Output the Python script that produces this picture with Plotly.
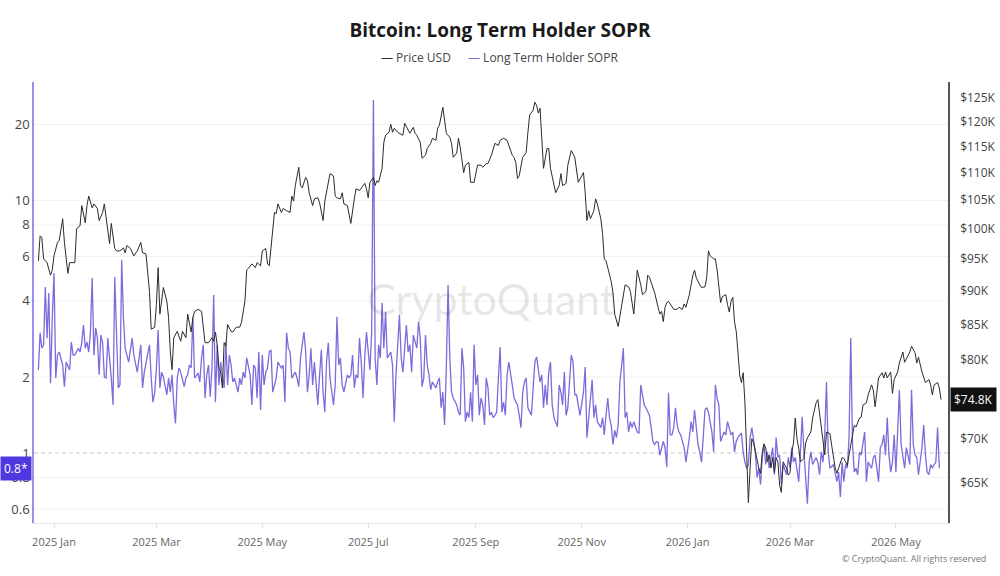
import math
import pandas as pd
import plotly.graph_objects as go

# ---------------- data ----------------
BASE_DATE = "2025-01-01"

price_day = [
    -9, -8, -7, -6, -4, -3, -2, -1, 0, 2, 3, 5, 6, 8, 9, 12, 13, 15, 16, 18, 19, 20, 22, 23, 25, 26, 28, 29, 30,
    32, 33, 35, 36, 38, 40, 41, 42, 44, 46, 47, 48, 50, 51, 53, 55, 56, 58, 59, 60, 61, 63, 65, 66, 67, 68, 69,
    71, 73, 74, 76, 77, 79, 80, 81, 83, 85, 86, 87, 89, 91, 92, 93, 94, 95, 96, 97, 98, 99, 100, 102, 103, 105,
    107, 108, 110, 111, 112, 114, 116, 117, 119,
    120, 122, 123, 124, 125, 127, 128, 129, 131, 132, 134, 136, 137, 138, 139, 141, 142, 143, 145, 146, 147, 149,
    150, 152, 153, 155, 156, 157, 159, 161, 162, 163, 165, 166, 167, 169, 170, 171, 173, 174, 176, 177, 179, 180,
    181, 182, 184, 185, 186, 187, 189, 190, 191, 193, 194, 195, 196, 198, 199, 201, 202, 204, 205, 207, 208, 209,
    211, 212, 214, 215, 217, 218, 220, 221, 222, 224, 225, 226, 228, 229, 230, 232, 233, 234, 236, 237, 239, 240,
    242, 243, 244, 246, 247, 249,
    250, 252, 254, 256, 257, 259, 261, 262, 264, 265, 266, 267, 268, 270, 272, 273, 274, 276, 277, 278, 279, 280,
    281, 282, 284, 285, 286, 288, 289, 291, 292, 293, 295, 296, 297, 298, 300, 301, 302, 304, 305, 306, 307, 308,
    309, 311, 312, 313, 315, 316, 317, 318, 319, 320, 321, 322, 323, 325, 326, 327, 328, 329, 331, 332, 334, 335,
    336, 338, 339, 341, 342, 343, 345, 346, 348, 349, 350, 351, 352, 353, 354, 356, 357, 359, 360, 362, 363, 364,
    366, 367, 368, 369, 370, 372, 373, 375, 376, 377, 378, 380,
    381, 382, 383, 384, 385, 387, 388, 389, 390, 391, 392, 393, 394, 395, 396, 397, 398, 399, 400, 401, 402, 403,
    404, 405, 406, 407, 408, 409, 410, 411, 412, 413, 414, 415, 416, 417, 418, 419, 420, 422, 423, 424, 425, 426,
    427, 428, 429, 430, 432, 433, 434, 436, 437, 439, 440, 441, 442, 444, 445, 447, 448, 450, 451, 452, 454, 455,
    457, 458, 460, 461, 462, 464, 465, 466, 468, 469, 471, 472, 473, 474, 475, 477, 478, 479, 480, 482, 483, 484,
    486, 487, 488, 489, 490, 492, 493, 494, 496, 497, 498, 500, 501, 502, 504, 505, 506, 507, 509, 510, 511,
]
price_usd_k = [
    94.7, 98.8, 98.5, 95.0, 94.4, 93.5, 92.4, 93.2, 95.5, 97.7, 98.0, 101.7, 97.7, 92.7, 94.4, 94.4, 100.0, 100.5,
    104.0, 101.0, 104.0, 105.7, 103.6, 104.3, 103.5, 101.4, 102.8, 104.3, 101.7,
    97.5, 100.9, 96.7, 96.3, 96.3, 96.8, 96.0, 97.2, 96.7, 95.5, 96.0, 96.3, 97.7, 96.0, 95.8, 89.9, 84.3, 84.6,
    87.9, 93.6, 86.5, 90.5, 88.4, 86.0, 81.1, 78.7, 83.1,
    84.0, 82.6, 84.0, 83.1, 86.5, 83.9, 86.0, 86.9, 87.2, 86.9, 84.0, 82.4, 82.4, 83.1, 82.6, 83.9, 82.1, 78.9,
    78.4, 76.3, 82.4, 81.9, 85.0, 84.0, 83.9, 84.6,
    84.6, 85.3, 88.4, 93.2, 93.5, 94.2, 93.6, 94.4, 93.9,
    96.3, 96.7, 94.2, 93.9, 96.7, 102.8, 102.6, 104.3, 102.8, 103.5, 103.1, 102.8, 105.7, 104.8, 107.6, 111.0,
    107.6, 107.2, 109.1, 108.5, 106.3, 104.0,
    105.2, 105.4, 104.5, 101.4, 104.8, 106.3, 109.8, 109.4, 105.7, 105.4, 105.2, 106.3, 104.3, 104.0, 102.6,
    100.9, 105.2, 107.0, 106.7, 107.2, 108.0, 107.0,
    105.4, 108.2, 109.1, 107.6, 108.5, 108.2, 110.8, 115.8, 117.2, 117.8, 119.4, 117.8, 118.6, 117.8, 117.6,
    117.2, 119.6, 118.2, 117.6, 118.8, 117.6, 117.2,
    115.8, 112.7, 113.3, 114.6, 115.6, 116.6, 116.2, 118.6, 119.2, 122.9, 120.6, 117.6, 116.8, 115.6, 112.9,
    113.7, 116.6, 114.8, 110.0, 111.4, 111.9, 108.2,
    108.2, 109.8, 111.4, 111.4, 111.0, 111.7,
    111.7, 113.3, 115.6, 115.2, 116.2, 116.6, 116.2, 115.2, 113.3, 112.9, 111.9, 108.9, 109.4, 112.9, 113.8,
    117.8, 121.3, 122.3, 124.0, 123.3, 121.7, 122.7,
    116.6, 110.8, 114.6, 114.6, 110.8, 108.0, 106.3, 107.6, 109.8, 107.6, 108.0, 111.4, 112.7, 114.2, 112.9,
    110.8, 108.2, 109.4, 110.0, 106.3, 101.4, 103.1,
    101.7, 103.1, 105.2, 104.3, 101.7, 99.2, 95.0, 94.7, 93.6, 92.4, 91.4, 89.7, 86.5, 84.7, 86.2, 87.9, 89.9,
    90.9, 90.6, 89.9, 86.5, 90.5,
    93.2, 90.9, 89.4, 89.9, 92.4, 92.1, 90.5, 89.7, 87.5, 86.5, 86.9, 85.4, 87.5, 88.2, 88.4, 87.6, 87.2, 87.2,
    87.5, 87.2, 88.0, 87.5,
    89.4, 90.9, 92.4, 93.2, 92.0, 90.9, 90.5, 90.6, 92.0, 96.3, 95.5, 95.0,
    95.0, 93.2, 90.9, 88.2, 89.1, 89.4, 87.9, 86.8, 88.4, 89.0, 85.4, 84.0, 81.1, 78.0, 77.0, 78.3, 74.5, 68.4,
    62.8, 66.6, 70.0, 69.5,
    68.4, 67.3, 66.6, 66.0, 68.4, 69.4, 68.9, 67.3, 68.1, 66.6, 67.8, 66.1, 67.8, 67.3, 64.7, 63.9, 67.3, 66.6,
    65.8, 66.1, 68.4, 69.5,
    72.5, 70.0, 68.9, 67.3, 67.7, 69.5, 70.1, 70.8, 72.5, 74.4, 74.8, 73.1, 71.3, 68.1, 70.8, 70.6, 69.2, 66.6,
    66.0, 66.6, 67.8, 67.7,
    66.9, 68.1, 70.8, 71.6, 71.4, 72.5, 72.6, 74.1, 74.4, 75.4, 76.7, 76.0, 73.9, 75.8, 77.6, 78.3, 77.6, 78.4,
    77.6, 78.4, 75.6, 77.4,
    78.4, 79.6, 80.3, 81.1, 79.7, 80.7, 81.1, 81.9, 81.0, 79.6, 80.4, 78.4, 77.6, 77.0, 77.4, 76.7, 75.4, 76.7,
    77.0, 76.3, 74.8,
]

sopr_day = [
    -9, -8, -7, -6, -5, -4, -3, -2, -1, 0, 1, 2, 3, 5, 6, 7, 9, 10, 11, 12, 14, 15, 16, 17, 18, 19, 20, 21, 22,
    23, 24, 25, 26, 27, 28, 29, 30, 31, 33, 34, 35, 36, 37, 38, 39, 40, 41, 43, 44, 45, 46, 48, 50, 51, 52, 53,
    55, 56, 57, 58, 59, 60, 61, 62, 63, 65, 66, 67, 68, 69, 70, 71, 72, 73, 75, 76, 77, 78, 79, 80, 81, 83, 84,
    85, 86, 87, 88, 89, 90, 91, 92, 93, 94, 95, 96, 98, 99, 100, 101, 102, 103, 104, 106, 107, 108, 109, 110,
    111, 113, 114, 115, 116, 117, 118, 119,
    120, 121, 122, 123, 124, 125, 126, 127, 128, 129, 131, 132, 133, 134, 135, 136, 137, 139, 140, 141, 142, 144,
    145, 146, 147, 148, 149, 150, 151, 152, 153, 154, 155, 156, 157, 158, 159, 161, 162, 163, 164, 165, 166, 167,
    169, 170, 171, 172, 173, 174, 175, 176, 177, 178, 179, 180, 182, 183, 184, 185, 186, 187, 188, 189, 190, 191,
    192, 194, 195, 196, 197, 199, 200, 201, 203, 204, 205, 206, 207, 209, 210, 211, 212, 213, 214, 215, 216, 217,
    218, 220, 221, 222, 223, 224, 225, 226, 227, 228, 229, 230, 232, 233, 234, 235, 236, 237, 238, 239, 240, 241,
    242, 243, 244, 245, 246, 247, 248, 249, 250,
    251, 252, 253, 254, 255, 256, 257, 258, 259, 260, 261, 262, 263, 264, 265, 267, 268, 269, 270, 271, 272, 273,
    275, 276, 277, 278, 279, 280, 281, 282, 283, 284, 285, 286, 287, 288, 290, 291, 292, 293, 294, 295, 296, 298,
    299, 300, 301, 302, 303, 305, 306, 307, 308, 309, 310, 311, 312, 313, 315, 316, 317, 318, 319, 320, 321, 322,
    323, 324, 325, 326, 328, 329, 330, 331, 332, 333, 334, 336, 337, 338, 339, 340, 341, 343, 344, 345, 346, 347,
    348, 349, 351, 352, 353, 354, 355, 356, 357, 358, 359, 360, 361, 363, 364, 365, 366, 367, 368, 369, 371, 372,
    373, 374, 375, 376, 377, 379, 380, 381,
    382, 383, 384, 386, 387, 388, 389, 390, 391, 392, 393, 394, 396, 397, 398, 399, 400, 401, 402, 404, 405, 406,
    407, 408, 409, 410, 411, 412, 414, 415, 416, 417, 418, 419, 420, 422, 423, 424, 425, 426, 427, 429, 430, 431,
    432, 433, 434, 435, 436, 437, 439, 440, 441, 442, 443, 444, 445, 446, 447, 449, 450, 451, 452, 453, 454, 455,
    456, 457, 458, 459, 460, 461, 462, 463, 464, 465, 467, 468, 469, 470, 471, 472, 473, 475, 476, 477, 478, 479,
    480, 481, 482, 483, 484, 485, 486, 487, 488, 490, 491, 492, 493, 494, 495, 496, 497, 498, 500, 501, 502, 503,
    504, 505, 506, 507, 508, 509, 510,
]
sopr = [
    2.13, 2.99, 2.60, 2.68, 4.54, 2.85, 4.30, 1.89, 3.42, 5.16, 1.98, 2.44, 2.51, 2.23, 1.83, 2.29, 2.13, 2.75,
    2.44, 2.44, 2.60, 2.51, 2.73, 3.21, 2.60, 2.75, 2.51, 3.01, 4.93,
    2.44, 3.13, 2.85, 2.04, 2.93, 2.73, 2.00, 1.98, 2.85, 1.98, 1.55, 4.98, 2.93, 1.81, 1.86, 5.81, 3.42, 2.60,
    2.29, 2.63, 2.85, 2.44, 2.09, 2.68, 1.81, 2.09, 2.27,
    2.68, 1.98, 1.59, 1.73, 2.17, 3.07, 1.81, 2.09, 2.00, 1.70, 1.98, 1.74, 2.04, 1.55, 1.31, 1.98, 2.17, 2.09,
    1.83, 1.98, 2.04, 2.23, 2.17, 3.46, 1.98, 2.07, 1.91,
    2.38, 2.68, 1.65, 2.04, 2.23, 1.67, 2.17, 4.22, 1.59, 2.68, 1.86, 2.29, 1.81, 2.75, 1.86, 2.44, 2.23, 1.91,
    1.98, 1.74, 1.98, 1.86, 2.09, 1.98,
    2.38, 2.04, 1.55, 2.23, 2.17, 1.65, 2.51, 1.48,
    2.44, 1.86, 2.09, 2.17, 2.51, 2.56, 1.74, 1.86, 1.98, 2.29, 2.17, 2.23, 1.59, 2.99, 2.60, 2.51, 1.98, 2.09,
    1.98, 1.83, 2.38, 3.01,
    2.51, 1.74, 2.04, 2.60, 1.86, 2.29, 1.81, 1.55, 2.04, 2.56, 1.74, 1.45, 2.29, 2.73, 1.98, 1.55, 1.86, 3.46,
    2.23, 2.38, 1.86, 1.74,
    2.04, 1.98, 2.04, 2.44, 1.81, 2.04, 1.98, 2.85, 2.29, 1.65, 2.38, 3.01, 2.13, 3.01, 25.0, 2.38, 1.86, 2.68,
    2.38, 3.93, 2.60, 3.62,
    2.38, 2.51, 2.23, 1.33, 2.04, 3.52, 2.38, 2.09, 3.21, 2.51, 2.68, 2.09, 2.93, 2.60, 3.30, 2.85, 1.83, 1.98,
    2.93, 2.23, 2.04, 1.78,
    1.91, 1.81, 1.91, 1.98, 1.51, 1.74, 1.29, 2.17, 4.63, 2.38, 1.74, 1.65, 1.55, 1.45, 1.41, 2.60, 2.17, 1.33,
    1.45, 1.38, 1.74, 1.33,
    2.68, 1.86, 2.04, 1.41, 1.65, 1.55, 1.29, 1.98, 1.81,
    1.41, 1.45, 1.38, 1.41, 1.45, 1.98, 2.63, 1.45, 1.59, 1.41, 2.04, 2.29, 2.09, 1.86, 1.65, 1.55, 1.41, 1.26,
    1.74, 1.91, 1.98, 1.51,
    1.41, 1.86, 2.29, 2.40, 2.09, 1.91, 2.04, 1.51, 1.86, 1.55, 2.09, 2.29, 1.55, 1.38, 1.27, 1.86, 1.74, 1.55,
    2.09, 1.41, 1.51, 2.44,
    2.29, 1.70, 1.70, 1.55, 1.41, 1.74, 2.19, 1.15, 1.38, 1.55, 1.95, 1.38, 1.55, 1.33, 1.26, 1.38, 1.18, 1.41,
    1.65, 1.38, 1.29, 1.08,
    1.23, 1.15, 1.29, 1.91, 2.60, 1.38, 1.45, 1.21, 1.33, 1.26, 1.33, 1.21, 1.20, 1.86, 1.70, 1.55, 1.51, 1.41,
    1.26, 1.11, 1.08, 1.11,
    1.10, 0.98, 1.11, 1.05, 0.88, 1.73, 1.18, 1.18, 1.26, 1.51, 1.29, 1.21, 1.18, 1.05, 0.92, 1.01, 1.15, 1.33,
    1.21, 1.48, 1.08, 1.01,
    0.92, 1.15, 1.48, 1.51, 1.45, 1.21, 1.01, 1.86,
    1.65, 1.55, 1.11, 1.21, 1.18, 1.33, 1.26, 1.18, 1.21, 1.01, 1.11, 1.15, 1.20, 1.01, 0.92, 0.87, 0.90, 1.15,
    1.26, 1.01, 0.80, 0.87,
    0.75, 0.96, 1.08, 0.90, 1.01, 0.87, 1.05, 0.82, 1.15, 0.96, 0.98, 0.75, 0.90, 0.82, 0.96, 0.87, 1.05, 0.92,
    0.96, 0.77, 1.01, 1.39,
    1.01, 0.77, 0.63, 0.92, 1.01, 0.90, 0.96, 0.92, 0.82, 1.01, 0.92, 1.18, 1.91, 1.01, 0.87, 0.90, 0.82, 0.77,
    0.84, 0.67, 0.92, 0.77,
    0.90, 0.87, 1.15, 2.85, 1.08, 0.84, 0.87, 0.82, 1.01, 0.98, 1.21, 0.77, 0.92, 0.90, 0.87, 0.96, 0.98, 0.77,
    1.05, 1.08, 1.18, 0.98,
    1.38, 0.98, 0.84, 0.92, 1.18, 0.84, 1.26, 1.78, 1.08, 0.87, 1.05, 0.96, 0.90, 1.78, 1.08, 0.98, 0.96, 0.82,
    1.05, 1.29, 0.98, 0.84,
    0.82, 0.90, 0.87, 0.90, 0.92, 1.26, 0.87,
]

sopr_ticks = [0.6, 0.8, 1, 2, 4, 6, 8, 10, 20]
price_ticks_k = [65, 70, 80, 85, 90, 95, 100, 105, 110, 115, 120, 125]
x_range = ["2024-12-20 11:30", "2026-05-31"]
sopr_range = [0.528, 29.45]
price_range_k = [60.66, 128.3]
sopr_last_label = "0.8*"

# ---------------- build ----------------
base = pd.Timestamp(BASE_DATE)
price_dates = base + pd.to_timedelta(price_day, unit="D")
sopr_dates = base + pd.to_timedelta(sopr_day, unit="D")
price_usd = [v * 1000 for v in price_usd_k]

FONT = "Open Sans"
PRICE_COLOR = "#2b2b2b"
SOPR_COLOR = "#7b6cdb"

W, H = 1000, 576
L, R, T, B = 34, 52, 82, 53
PW, PH = W - L - R, H - T - B


def px_x(p):
    return (p - L) / PW


def px_y(p):
    return (H - B - p) / PH


fig = go.Figure()
fig.add_trace(go.Scatter(
    x=sopr_dates, y=sopr, mode="lines", name="Long Term Holder SOPR",
    line=dict(color=SOPR_COLOR, width=1.3), yaxis="y", showlegend=False,
))
fig.add_trace(go.Scatter(
    x=price_dates, y=price_usd, mode="lines", name="Price USD",
    line=dict(color=PRICE_COLOR, width=1.0), yaxis="y2", showlegend=False,
))

grid_shapes = []
for v in sopr_ticks:
    if v == 1:
        continue
    grid_shapes.append(dict(type="line", xref="paper", x0=0, x1=1, yref="y", y0=v, y1=v,
                            line=dict(color="#f1f1f1", width=1), layer="below"))
grid_shapes.append(dict(type="line", xref="paper", x0=0, x1=1, yref="y", y0=1, y1=1,
                        line=dict(color="#c9c9c9", width=1, dash="4px,3px"), layer="below"))

annotations = [
    # legend
    dict(xref="paper", yref="paper", x=px_x(453), y=px_y(58), xanchor="right", yanchor="middle",
         text=f'<span style="color:{PRICE_COLOR}">—</span> Price USD', showarrow=False,
         font=dict(family=FONT, size=12, color="#444")),
    dict(xref="paper", yref="paper", x=px_x(466), y=px_y(58), xanchor="left", yanchor="middle",
         text=f'<span style="color:{SOPR_COLOR}">—</span> Long Term Holder SOPR', showarrow=False,
         font=dict(family=FONT, size=12, color="#444")),
    # watermark
    dict(xref="paper", yref="paper", x=px_x(491), y=px_y(298), xanchor="center", yanchor="middle",
         text="CryptoQuant", showarrow=False,
         font=dict(family="Lato", size=43, color="rgba(60,60,80,0.12)")),
    # copyright
    dict(xref="paper", yref="paper", x=px_x(988), y=px_y(558), xanchor="right", yanchor="middle",
         text="© CryptoQuant. All rights reserved", showarrow=False,
         font=dict(family=FONT, size=9, color="#777")),
    # last-value labels
    dict(xref="paper", yref="y", x=0, y=math.log10(sopr[-1]), xanchor="right", yanchor="middle",
         xshift=-2, text=sopr_last_label, showarrow=False, bgcolor="#5038e0", borderpad=3,
         font=dict(family=FONT, size=12, color="white")),
    dict(xref="paper", yref="y2", x=1, y=math.log10(price_usd[-1]), xanchor="left", yanchor="middle",
         xshift=2, text=f"${price_usd_k[-1]:.1f}K", showarrow=False, bgcolor="#111111", borderpad=3,
         font=dict(family=FONT, size=12, color="white")),
]

fig.update_layout(
    width=W, height=H,
    margin=dict(l=L, r=R, t=T, b=B, autoexpand=False),
    paper_bgcolor="white", plot_bgcolor="white",
    title=dict(text="<b>Bitcoin: Long Term Holder SOPR</b>", x=0.5, xanchor="center",
               y=1 - 30 / H, yanchor="middle", yref="container",
               font=dict(family=FONT, size=19, color="#1a1a1a")),
    showlegend=False,
    xaxis=dict(
        type="date", range=x_range, tick0="2025-01-01", dtick="M2", tickformat="%Y %b",
        showgrid=False, zeroline=False, showline=True, linecolor="#e6e6e6", linewidth=1,
        ticks="outside", ticklen=4, tickcolor="#e0e0e0", ticklabelstandoff=5, automargin=False,
        tickfont=dict(family=FONT, size=11, color="#666"),
    ),
    yaxis=dict(
        type="log", range=[math.log10(sopr_range[0]), math.log10(sopr_range[1])],
        tickvals=sopr_ticks, ticktext=[f"{v:g}" for v in sopr_ticks], automargin=False,
        showgrid=False, zeroline=False, showline=True, linecolor="#9a8fec", linewidth=1.5,
        ticks="", tickfont=dict(family=FONT, size=13, color="#444"), side="left",
    ),
    yaxis2=dict(
        type="log", overlaying="y", side="right", automargin=False,
        range=[math.log10(price_range_k[0] * 1000), math.log10(price_range_k[1] * 1000)],
        tickvals=[v * 1000 for v in price_ticks_k], ticktext=[f"${v}K" for v in price_ticks_k],
        showgrid=False, zeroline=False, showline=True, linecolor="#555", linewidth=1.5,
        ticks="", ticklabelstandoff=8, tickfont=dict(family=FONT, size=12, color="#444"),
    ),
    shapes=grid_shapes,
    annotations=annotations,
)

fig.write_html("out.html", config={"displayModeBar": False})
